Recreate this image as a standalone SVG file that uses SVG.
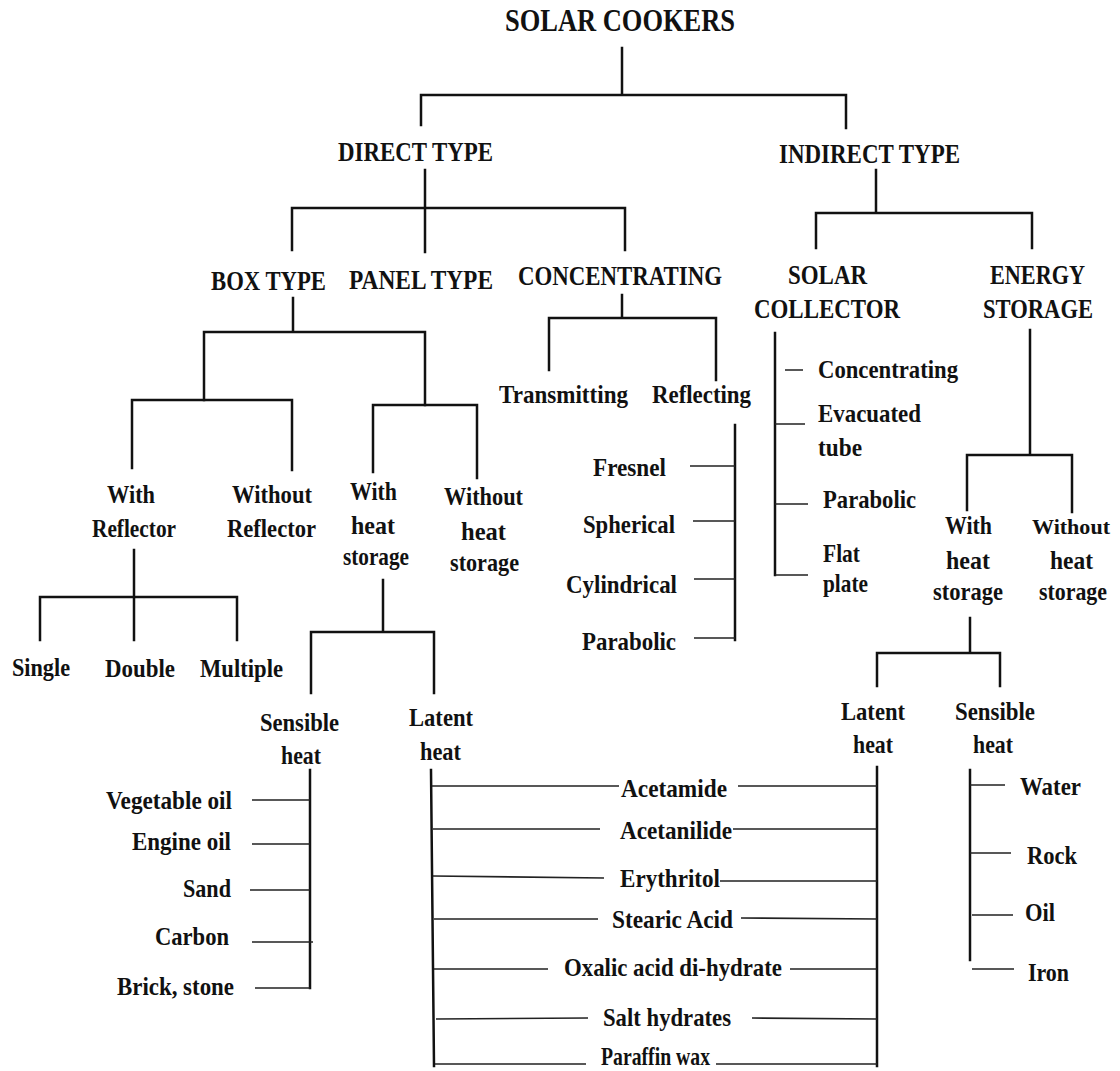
<svg xmlns="http://www.w3.org/2000/svg" width="1120" height="1071" viewBox="0 0 1120 1071">
  <style>
    text { font-family: "Liberation Serif", "Times New Roman", serif; font-weight: bold; fill: #111; }
    .title { font-size: 31px; }
    .hd { font-size: 28px; }
    .sm { font-size: 26px; }
    .ln { stroke: #111; stroke-width: 2.5; fill: none; stroke-linecap: square; }
    .tk { stroke: #222; stroke-width: 1.6; fill: none; }
  </style>
  <rect width="1120" height="1071" fill="#fff"/>

  <!-- connectors -->
  <g id="connectors">
    <!-- root -->
    <path class="ln" d="M622 48V95 M421 125V95H846V128"/>
    <!-- direct type -->
    <path class="ln" d="M425 170V252 M292 250V208H625V250"/>
    <!-- indirect type -->
    <path class="ln" d="M876 170V213 M816 248V213H1032V248"/>
    <!-- box type -->
    <path class="ln" d="M293 298V332 M204 400V332H425V405"/>
    <path class="ln" d="M132 468V400H292V470"/>
    <path class="ln" d="M373 472V405H477V478"/>
    <!-- with reflector -->
    <path class="ln" d="M134 550V640 M40 640V597H237V640"/>
    <!-- with heat storage (box) -->
    <path class="ln" d="M383 580V632 M311 693V632H434V693"/>
    <!-- concentrating -->
    <path class="ln" d="M622 295V318 M549 370V318H716V380"/>
    <!-- reflecting list -->
    <path class="ln" d="M735 425V640"/>
    <path class="tk" d="M690 466H735 M693 521H735 M694 579H735 M694 638H735"/>
    <!-- solar collector list -->
    <path class="ln" d="M775 333V575"/>
    <path class="tk" d="M785 370H803 M775 424H805 M775 504H808 M775 575H808"/>
    <!-- energy storage -->
    <path class="ln" d="M1030 330V455 M967 510V455H1072V512"/>
    <path class="ln" d="M970 618V653 M877 686V653H1000V686"/>
    <!-- sensible heat (box) list -->
    <path class="ln" d="M310 770V988"/>
    <path class="tk" d="M252 800H310 M252 844H310 M250 890H310 M252 942H313 M255 988H310"/>
    <!-- latent heat shared list -->
    <path class="ln" d="M431 770L434 1066 M877 767V1066"/>
    <path class="tk" d="M432 786H619 M738 786H877 M433 829H600 M733 829H877 M433 876L604 878 M720 881H877 M434 919H598 M741 918L877 919 M434 969H548 M790 969H877 M436 1019L588 1018 M752 1018L877 1019 M435 1064H586 M716 1064H877"/>
    <!-- sensible heat (storage) list -->
    <path class="ln" d="M970 770V960"/>
    <path class="tk" d="M970 785H1005 M970 853H1011 M972 915H1013 M972 969H1014"/>
  </g>

  <g id="solar-cookers"><text class="title" x="505" y="31" textLength="230" lengthAdjust="spacingAndGlyphs">SOLAR COOKERS</text></g>
  <g id="direct-type"><text class="hd" x="338" y="161" textLength="155" lengthAdjust="spacingAndGlyphs">DIRECT TYPE</text></g>
  <g id="indirect-type"><text class="hd" x="779" y="163" textLength="181" lengthAdjust="spacingAndGlyphs">INDIRECT TYPE</text></g>
  <g id="box-type"><text class="hd" x="211" y="290" textLength="115" lengthAdjust="spacingAndGlyphs">BOX TYPE</text></g>
  <g id="panel-type"><text class="hd" x="349" y="289" textLength="144" lengthAdjust="spacingAndGlyphs">PANEL TYPE</text></g>
  <g id="concentrating-type"><text class="hd" x="518" y="285" textLength="204" lengthAdjust="spacingAndGlyphs">CONCENTRATING</text></g>
  <g id="solar-collector">
    <text class="hd" x="788" y="284" textLength="79" lengthAdjust="spacingAndGlyphs">SOLAR</text>
    <text class="hd" x="754" y="318" textLength="146" lengthAdjust="spacingAndGlyphs">COLLECTOR</text>
  </g>
  <g id="energy-storage">
    <text class="hd" x="990" y="284" textLength="95" lengthAdjust="spacingAndGlyphs">ENERGY</text>
    <text class="hd" x="983" y="318" textLength="110" lengthAdjust="spacingAndGlyphs">STORAGE</text>
  </g>

  <!-- box type branches -->
  <g id="with-reflector">
    <text class="sm" x="107" y="503" textLength="48" lengthAdjust="spacingAndGlyphs">With</text>
    <text class="sm" x="92" y="537" textLength="84" lengthAdjust="spacingAndGlyphs">Reflector</text>
  </g>
  <g id="without-reflector">
    <text class="sm" x="232" y="503" textLength="80" lengthAdjust="spacingAndGlyphs">Without</text>
    <text class="sm" x="227" y="537" textLength="89" lengthAdjust="spacingAndGlyphs">Reflector</text>
  </g>
  <g id="box-with-heat-storage">
    <text class="sm" x="350" y="500" textLength="47" lengthAdjust="spacingAndGlyphs">With</text>
    <text class="sm" x="351" y="534" textLength="44" lengthAdjust="spacingAndGlyphs">heat</text>
    <text class="sm" x="343" y="565" textLength="66" lengthAdjust="spacingAndGlyphs">storage</text>
  </g>
  <g id="box-without-heat-storage">
    <text class="sm" x="444" y="505" textLength="79" lengthAdjust="spacingAndGlyphs">Without</text>
    <text class="sm" x="461" y="540" textLength="45" lengthAdjust="spacingAndGlyphs">heat</text>
    <text class="sm" x="450" y="571" textLength="69" lengthAdjust="spacingAndGlyphs">storage</text>
  </g>
  <g id="single"><text class="sm" x="12" y="676" textLength="58" lengthAdjust="spacingAndGlyphs">Single</text></g>
  <g id="double"><text class="sm" x="105" y="677" textLength="70" lengthAdjust="spacingAndGlyphs">Double</text></g>
  <g id="multiple"><text class="sm" x="200" y="677" textLength="83" lengthAdjust="spacingAndGlyphs">Multiple</text></g>
  <g id="box-sensible-heat">
    <text class="sm" x="260" y="731" textLength="79" lengthAdjust="spacingAndGlyphs">Sensible</text>
    <text class="sm" x="281" y="764" textLength="40" lengthAdjust="spacingAndGlyphs">heat</text>
  </g>
  <g id="box-latent-heat">
    <text class="sm" x="409" y="726" textLength="64" lengthAdjust="spacingAndGlyphs">Latent</text>
    <text class="sm" x="420" y="760" textLength="41" lengthAdjust="spacingAndGlyphs">heat</text>
  </g>
  <g id="vegetable-oil"><text class="sm" x="106" y="809" textLength="126" lengthAdjust="spacingAndGlyphs">Vegetable oil</text></g>
  <g id="engine-oil"><text class="sm" x="132" y="850" textLength="99" lengthAdjust="spacingAndGlyphs">Engine oil</text></g>
  <g id="sand"><text class="sm" x="183" y="897" textLength="48" lengthAdjust="spacingAndGlyphs">Sand</text></g>
  <g id="carbon"><text class="sm" x="155" y="945" textLength="74" lengthAdjust="spacingAndGlyphs">Carbon</text></g>
  <g id="brick-stone"><text class="sm" x="117" y="995" textLength="117" lengthAdjust="spacingAndGlyphs">Brick, stone</text></g>

  <!-- concentrating branches -->
  <g id="transmitting"><text class="sm" x="499" y="403" textLength="129" lengthAdjust="spacingAndGlyphs">Transmitting</text></g>
  <g id="reflecting"><text class="sm" x="652" y="403" textLength="99" lengthAdjust="spacingAndGlyphs">Reflecting</text></g>
  <g id="fresnel"><text class="sm" x="593" y="476" textLength="73" lengthAdjust="spacingAndGlyphs">Fresnel</text></g>
  <g id="spherical"><text class="sm" x="583" y="533" textLength="92" lengthAdjust="spacingAndGlyphs">Spherical</text></g>
  <g id="cylindrical"><text class="sm" x="566" y="593" textLength="111" lengthAdjust="spacingAndGlyphs">Cylindrical</text></g>
  <g id="parabolic-reflector"><text class="sm" x="582" y="650" textLength="94" lengthAdjust="spacingAndGlyphs">Parabolic</text></g>

  <!-- solar collector branches -->
  <g id="collector-concentrating"><text class="sm" x="818" y="378" textLength="140" lengthAdjust="spacingAndGlyphs">Concentrating</text></g>
  <g id="evacuated-tube">
    <text class="sm" x="818" y="422" textLength="103" lengthAdjust="spacingAndGlyphs">Evacuated</text>
    <text class="sm" x="818" y="456" textLength="44" lengthAdjust="spacingAndGlyphs">tube</text>
  </g>
  <g id="collector-parabolic"><text class="sm" x="823" y="508" textLength="93" lengthAdjust="spacingAndGlyphs">Parabolic</text></g>
  <g id="flat-plate">
    <text class="sm" x="823" y="562" textLength="37" lengthAdjust="spacingAndGlyphs">Flat</text>
    <text class="sm" x="823" y="592" textLength="45" lengthAdjust="spacingAndGlyphs">plate</text>
  </g>

  <!-- energy storage branches -->
  <g id="storage-with-heat">
    <text class="sm" x="945" y="534" textLength="47" lengthAdjust="spacingAndGlyphs">With</text>
    <text class="sm" x="946" y="569" textLength="44" lengthAdjust="spacingAndGlyphs">heat</text>
    <text class="sm" x="933" y="600" textLength="70" lengthAdjust="spacingAndGlyphs">storage</text>
  </g>
  <g id="storage-without-heat">
    <text class="sm" x="1032" y="534" style="font-size:22px" textLength="78" lengthAdjust="spacingAndGlyphs">Without</text>
    <text class="sm" x="1050" y="569" textLength="43" lengthAdjust="spacingAndGlyphs">heat</text>
    <text class="sm" x="1039" y="600" textLength="68" lengthAdjust="spacingAndGlyphs">storage</text>
  </g>
  <g id="storage-latent-heat">
    <text class="sm" x="841" y="720" textLength="64" lengthAdjust="spacingAndGlyphs">Latent</text>
    <text class="sm" x="853" y="753" textLength="40" lengthAdjust="spacingAndGlyphs">heat</text>
  </g>
  <g id="storage-sensible-heat">
    <text class="sm" x="955" y="720" textLength="80" lengthAdjust="spacingAndGlyphs">Sensible</text>
    <text class="sm" x="973" y="753" textLength="40" lengthAdjust="spacingAndGlyphs">heat</text>
  </g>
  <g id="water"><text class="sm" x="1020" y="795" textLength="61" lengthAdjust="spacingAndGlyphs">Water</text></g>
  <g id="rock"><text class="sm" x="1027" y="864" textLength="50" lengthAdjust="spacingAndGlyphs">Rock</text></g>
  <g id="oil"><text class="sm" x="1025" y="921" textLength="30" lengthAdjust="spacingAndGlyphs">Oil</text></g>
  <g id="iron"><text class="sm" x="1028" y="981" textLength="41" lengthAdjust="spacingAndGlyphs">Iron</text></g>

  <!-- latent heat materials -->
  <g id="acetamide"><text class="sm" x="621" y="797" textLength="106" lengthAdjust="spacingAndGlyphs">Acetamide</text></g>
  <g id="acetanilide"><text class="sm" x="620" y="839" textLength="112" lengthAdjust="spacingAndGlyphs">Acetanilide</text></g>
  <g id="erythritol"><text class="sm" x="620" y="887" textLength="100" lengthAdjust="spacingAndGlyphs">Erythritol</text></g>
  <g id="stearic-acid"><text class="sm" x="612" y="928" textLength="121" lengthAdjust="spacingAndGlyphs">Stearic Acid</text></g>
  <g id="oxalic-acid"><text class="sm" x="564" y="976" textLength="218" lengthAdjust="spacingAndGlyphs">Oxalic acid di-hydrate</text></g>
  <g id="salt-hydrates"><text class="sm" x="603" y="1026" textLength="128" lengthAdjust="spacingAndGlyphs">Salt hydrates</text></g>
  <g id="paraffin-wax"><text class="sm" x="601" y="1065" textLength="109" lengthAdjust="spacingAndGlyphs">Paraffin wax</text></g>
</svg>
